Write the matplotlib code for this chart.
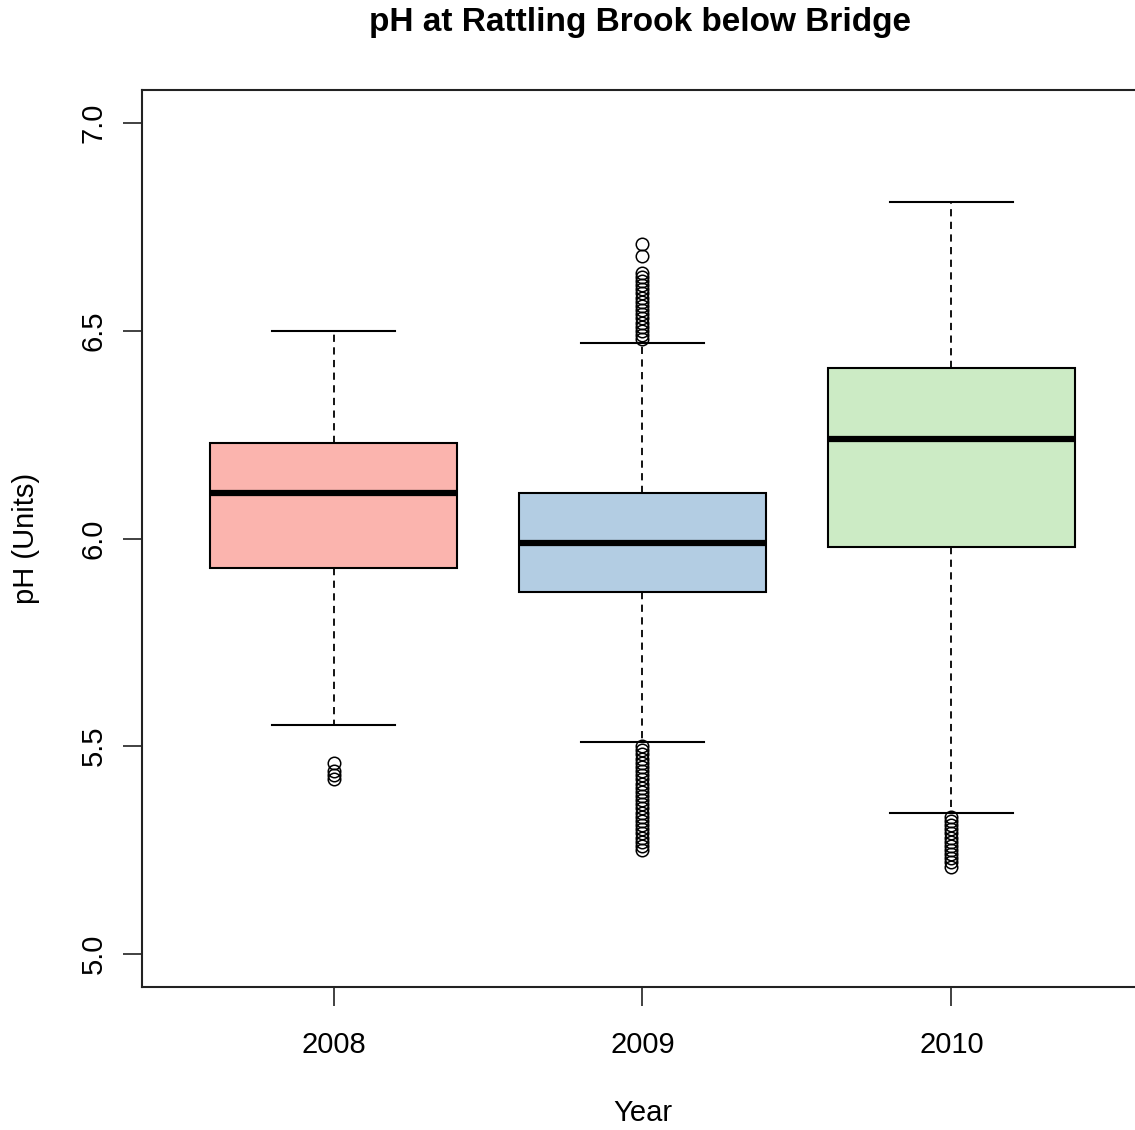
import matplotlib
matplotlib.use("Agg")
import matplotlib.pyplot as plt

plt.rcParams['font.family'] = ['Liberation Sans', 'DejaVu Sans']

years = ["2008", "2009", "2010"]
colors = ["#FBB4AE", "#B3CDE3", "#CCEBC5"]
q1 = [5.93, 5.87, 5.98]
med = [6.11, 5.99, 6.24]
q3 = [6.23, 6.11, 6.41]
whislo = [5.55, 5.51, 5.34]
whishi = [6.50, 6.47, 6.81]
fliers_2008 = [5.46, 5.44, 5.43, 5.42]
fliers_2009 = [6.71, 6.68, 6.64, 6.63, 6.62, 6.61, 6.60, 6.59, 6.58, 6.57, 6.56, 6.55,
               6.54, 6.53, 6.52, 6.51, 6.50, 6.49, 6.48,
               5.50, 5.49, 5.48, 5.47, 5.46, 5.45, 5.44, 5.43, 5.42, 5.41, 5.40, 5.39,
               5.38, 5.37, 5.36, 5.35, 5.34, 5.33, 5.32, 5.31, 5.30, 5.29, 5.28, 5.27,
               5.26, 5.25]
fliers_2010 = [5.33, 5.32, 5.31, 5.30, 5.29, 5.28, 5.27, 5.26, 5.25, 5.24, 5.23, 5.22, 5.21]
fliers = [fliers_2008, fliers_2009, fliers_2010]
yticks = [5.0, 5.5, 6.0, 6.5, 7.0]

stats = []
for i in range(3):
    stats.append(dict(label=years[i], q1=q1[i], med=med[i], q3=q3[i],
                      whislo=whislo[i], whishi=whishi[i], fliers=fliers[i]))

fig = plt.figure(figsize=(11.35, 11.30), dpi=100)
ax = fig.add_axes([142/1135, 1 - 987/1130, (1143-142)/1135, (987-90)/1130])

bp = ax.bxp(stats, positions=[1, 2, 3], widths=0.8, capwidths=0.4, patch_artist=True,
            boxprops=dict(linewidth=1.5, edgecolor='black'),
            medianprops=dict(color='black', linewidth=4.5, solid_capstyle='butt'),
            whiskerprops=dict(color='black', linewidth=1.3, linestyle=(0, (4, 3))),
            capprops=dict(color='black', linewidth=1.5),
            flierprops=dict(marker='o', markerfacecolor='none', markeredgecolor='black',
                            markersize=9, markeredgewidth=1.1))
for patch, c in zip(bp['boxes'], colors):
    patch.set_facecolor(c)

ax.set_xlim(0.38, 3.62)
ax.set_ylim(4.92, 7.08)
ax.set_yticks(yticks)
ax.set_yticklabels([f"{v:.1f}" for v in yticks], rotation=90, va='center', fontsize=21)
ax.set_xticks([1, 2, 3])
ax.set_xticklabels(years, fontsize=21)
ax.tick_params(axis='both', length=13.5, width=1.3, color='#333333')
ax.tick_params(axis='y', pad=11)
ax.tick_params(axis='x', pad=18)
for s in ax.spines.values():
    s.set_linewidth(1.5)
    s.set_color('#222222')

ax.set_xlabel("Year", fontsize=21, labelpad=29)
ax.set_ylabel("pH (Units)", fontsize=21, labelpad=29)
fig.text(640/1135, 1 - 22/1130, "pH at Rattling Brook below Bridge", ha='center', va='center',
         fontsize=24, fontweight='bold')

fig.savefig("out.png", dpi=100)
